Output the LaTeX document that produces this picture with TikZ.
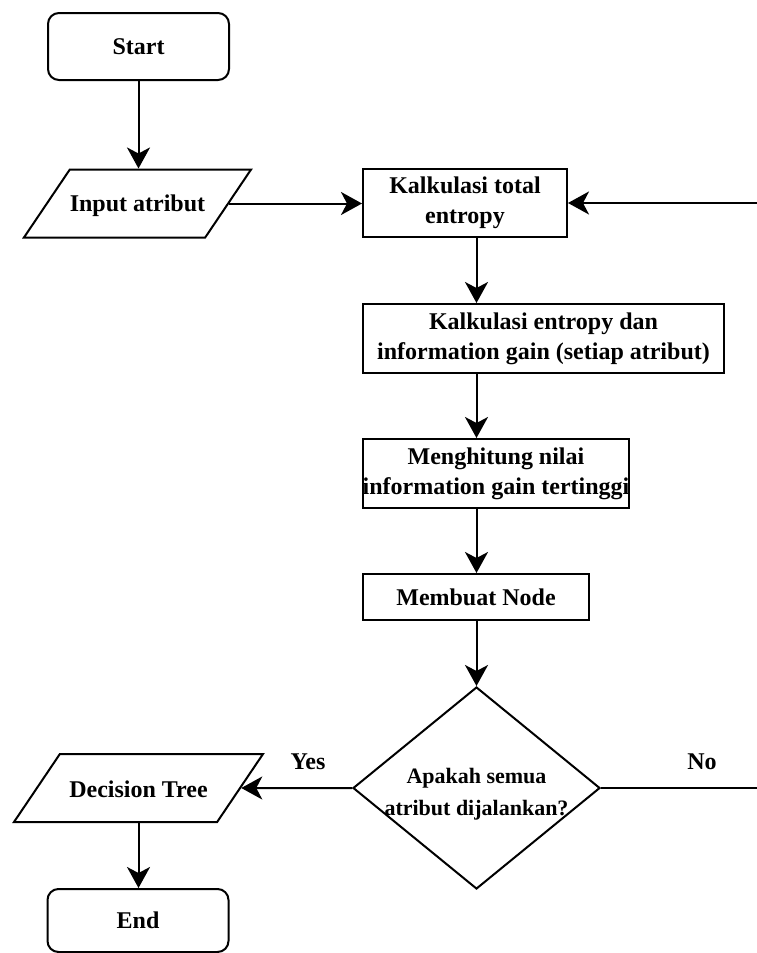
\documentclass[tikz,border=0pt]{standalone}
\usepackage{fontspec}
\setmainfont{Liberation Serif}
\usetikzlibrary{arrows.meta,shapes.geometric}
\begin{document}
\begin{tikzpicture}[x=1pt,y=-1pt,
  base/.style={draw,line width=2pt,font=\fontsize{24}{30}\selectfont\bfseries,align=center,inner sep=0pt},
  term/.style={base,rounded corners=11pt,minimum width=181pt,minimum height=67pt},
  proc/.style={base,rectangle},
  io/.style={draw,line width=2pt,font=\fontsize{24}{30}\selectfont\bfseries,inner xsep=0pt,inner ysep=23pt,text height=19pt,text depth=3pt,trapezium,trapezium left angle=56,trapezium right angle=124,trapezium stretches body=true},
  dec/.style={draw,line width=2pt,diamond,inner sep=0pt,minimum width=247pt,minimum height=202pt},
  conn/.style={line width=2pt,-{Stealth[length=21pt,width=23pt,inset=6pt]}},
  lbl/.style={font=\fontsize{24}{30}\selectfont\bfseries}]
\useasboundingbox (0,0) rectangle (757,953);
\node[term] (start) at (138.5,46.5) {Start};
\node[io,minimum width=226pt] (in) at (137.5,203.5) {Input atribut};
\node[proc,minimum width=204pt,minimum height=68pt] (ent) at (465,203) {Kalkulasi total\\entropy};
\node[proc,minimum width=361pt,minimum height=69pt] (gain) at (543.5,338.5) {Kalkulasi entropy dan\\information gain (setiap atribut)};
\node[proc,minimum width=266pt,minimum height=69pt] (high) at (496,473.5) {Menghitung nilai\\information gain tertinggi};
\node[proc,minimum width=226pt,minimum height=46pt] (mk) at (476,597) {Membuat Node};
\node[dec] (dec) at (476.5,788) {};
\node[font=\fontsize{22}{32}\selectfont\bfseries,align=center] (dtxt) at ([yshift=-6pt]dec.center) {Apakah semua\\atribut dijalankan?};
\node[io,minimum width=249pt,text height=20pt,text depth=2pt] (dt) at (138.5,788) {Decision Tree};
\node[term,minimum height=63pt] (end) at (138,920.5) {End};
\node[lbl] (yes) at (308,762) {Yes};
\node[lbl] (no) at (702,762) {No};
\coordinate (rin) at (757,203);
\coordinate (rout) at (757,788);
\draw[conn] (start.south) -- (start.south |- in.north);
\draw[conn] (in.east) -- (in.east -| ent.west);
\draw[conn] (rin) -- (ent.east);
\draw[conn] (ent.south -| dec.north) -- (gain.north -| dec.north);
\draw[conn] (gain.south -| dec.north) -- (high.north -| dec.north);
\draw[conn] (high.south -| dec.north) -- (mk.north -| dec.north);
\draw[conn] (mk.south -| dec.north) -- (dec.north);
\draw[conn] (dec.west) -- (dt.east);
\draw[line width=2pt] (dec.east) -- (rout);
\draw[conn] (dt.south) -- (dt.south |- end.north);
\end{tikzpicture}
\end{document}
